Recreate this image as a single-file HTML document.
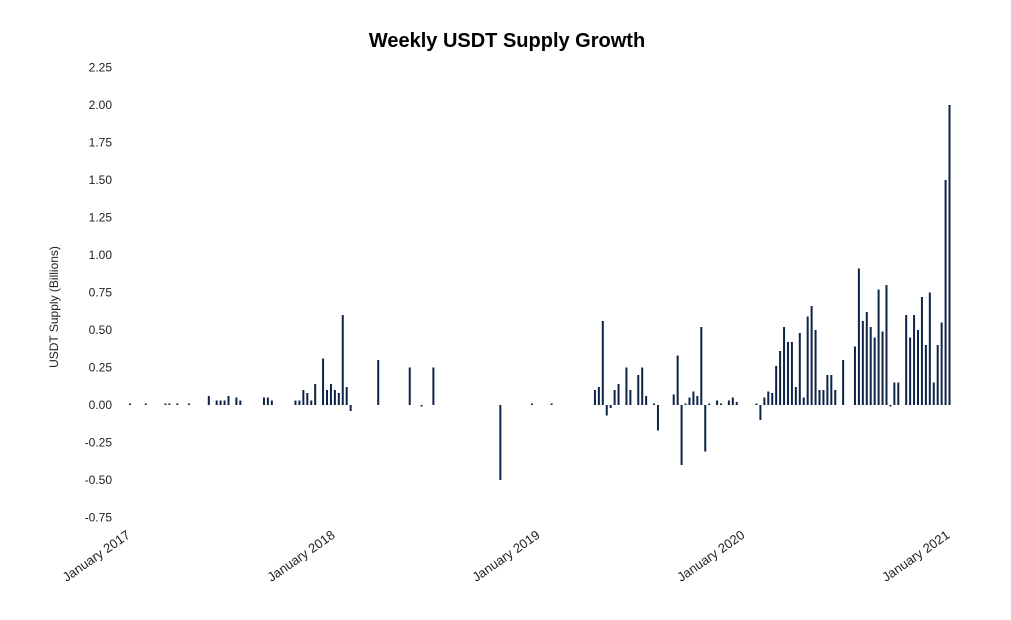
<!DOCTYPE html>
<html><head><meta charset="utf-8"><style>
body{margin:0;background:#fff;}
svg{display:block;font-family:"Liberation Sans",sans-serif;}
</style></head><body>
<svg id="chart" width="1011" height="620" viewBox="0 0 1011 620">
<text x="507" y="47" text-anchor="middle" font-size="20" font-weight="bold" fill="#000">Weekly USDT Supply Growth</text>
<text transform="translate(58,307) rotate(-90)" text-anchor="middle" font-size="12" fill="#222">USDT Supply (Billions)</text>
<g id="yticks"></g><g id="xticks"></g><g id="bars"></g>
</svg>
<script>
const weeks=[0,4,9,10,12,15,20,22,23,24,25,27,28,34,35,36,42,43,44,45,46,47,49,50,51,52,53,54,55,56,63,71,74,77,
94,102,107,118,119,120,121,122,123,124,126,127,129,130,131,133,134,138,139,140,141,142,143,144,145,146,147,149,150,152,153,154,
159,160,161,162,163,164,165,166,167,168,169,170,171,172,173,174,175,176,177,178,179,181,184,185,186,187,188,189,190,191,192,193,194,195,197,198,199,200,201,202,203,204,205,206,207,208];
const values=[0.01,0.01,0.01,0.01,0.01,0.01,0.06,0.03,0.03,0.03,0.06,0.05,0.03,0.05,0.05,0.03,0.03,0.03,0.1,0.08,0.03,0.14,0.31,0.1,0.14,0.1,0.08,0.6,0.12,-0.04,0.3,0.25,-0.01,0.25,
-0.5,0.01,0.01,0.1,0.12,0.56,-0.07,-0.02,0.1,0.14,0.25,0.1,0.2,0.25,0.06,0.01,-0.17,0.07,0.33,-0.4,0.01,0.05,0.09,0.06,0.52,-0.31,0.01,0.03,0.01,0.03,0.05,0.02,
0.01,-0.1,0.05,0.09,0.08,0.26,0.36,0.52,0.42,0.42,0.12,0.48,0.05,0.59,0.66,0.5,0.1,0.1,0.2,0.2,0.1,0.3,0.39,0.91,0.56,0.62,0.52,0.45,0.77,0.49,0.8,-0.01,0.15,0.15,0.6,0.45,0.6,0.5,0.72,0.4,0.75,0.15,0.4,0.55,1.5,2.0];
const yTicks=[2.25,2.0,1.75,1.5,1.25,1.0,0.75,0.5,0.25,0,-0.25,-0.5,-0.75];
const xTickWeeks=[0,52,104,156,208];
const xTickLabels=["January 2017","January 2018","January 2019","January 2020","January 2021"];
const NS="http://www.w3.org/2000/svg";
const y=v=>405-v*150;
const x=w=>130+w*3.94;
const yg=document.getElementById('yticks');
yTicks.forEach(t=>{const e=document.createElementNS(NS,'text');


e.setAttribute('x',112);e.setAttribute('y',y(t)+4);e.setAttribute('text-anchor','end');e.setAttribute('font-size','12');e.setAttribute('fill','#222');e.textContent=t.toFixed(2);yg.appendChild(e);});
const xg=document.getElementById('xticks');
xTickWeeks.forEach((w,i)=>{const e=document.createElementNS(NS,'text');


e.setAttribute('transform',`translate(${x(w)+1},${537}) rotate(-35)`);e.setAttribute('text-anchor','end');e.setAttribute('font-size','13');e.setAttribute('fill','#222');e.textContent=xTickLabels[i];xg.appendChild(e);});
const bg=document.getElementById('bars');
weeks.forEach((w,i)=>{const v=values[i];const r=document.createElementNS(NS,'rect');


const top=Math.min(y(v),y(0)),h=Math.max(Math.abs(y(v)-y(0)),1.2);
r.setAttribute('x',x(w)-1);r.setAttribute('y',top);r.setAttribute('width',2);r.setAttribute('height',h);r.setAttribute('fill','#0d2348');bg.appendChild(r);});
</script>
</body></html>
